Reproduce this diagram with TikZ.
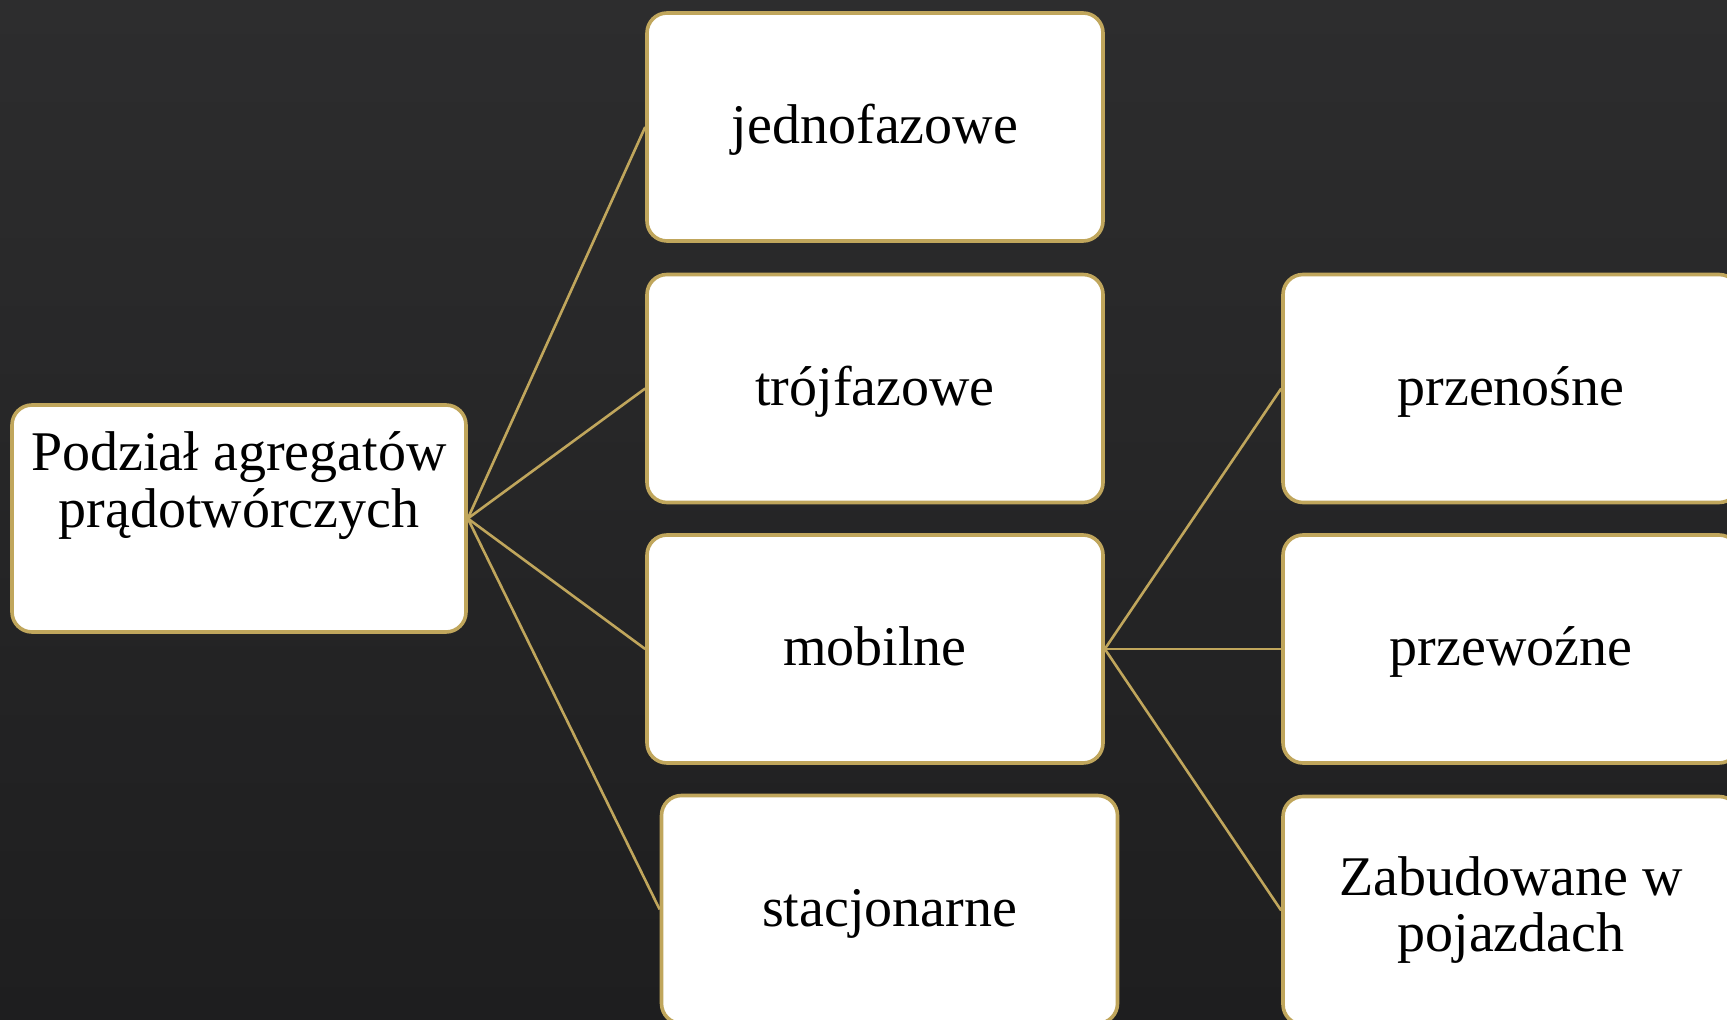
\documentclass[tikz,border=0pt]{standalone}
\usepackage{fontspec}
\setmainfont{Liberation Serif}
\definecolor{gold}{RGB}{192,166,92}
\definecolor{bgtop}{RGB}{45,45,46}
\definecolor{bgbot}{RGB}{30,30,31}
\begin{document}
\begin{tikzpicture}[x=0.5pt,y=-0.5pt,
  box/.style={draw=gold, line width=1.8pt, fill=white, rounded corners=10pt,
    minimum width=228pt, minimum height=114pt, inner sep=0pt,
    font=\fontsize{28}{28}\selectfont, align=center, text=black},
  oneline/.style={text height=22.4pt, text depth=5.6pt},
  link/.style={draw=gold, line width=1.3pt}]
\useasboundingbox (0,0) rectangle (1727,1020);
\clip (0,0) rectangle (1727,1020);
\shade[top color=bgtop, bottom color=bgbot] (0,0) rectangle (1727,1020);

% nodes
\node[box, minimum width=227pt, minimum height=113.5pt] (root) at (239,518.5) {};
\node[anchor=north, inner sep=0pt, align=center, text=black,
  font=\fontsize{28}{28.5}\selectfont] (roottitle) at (239,431)
  {Podział agregatów\\prądotwórczych};

\node[box, oneline] (jedno) at (875,127) {jednofazowe};
\node[box, oneline] (troj) at (875,388.5) {trójfazowe};
\node[box, oneline] (mob) at (875,649) {mobilne};
\node[box, oneline] (stac) at (889.5,909.5) {stacjonarne};

\node[box, oneline] (przen) at (1511,388.5) {przenośne};
\node[box, oneline] (przew) at (1511,649) {przewoźne};
\node[box] (zab) at (1511,910.5) {Zabudowane w\\pojazdach};

% connectors
\draw[link] (root.east) -- (jedno.west);
\draw[link] (root.east) -- (troj.west);
\draw[link] (root.east) -- (mob.west);
\draw[link] (root.east) -- (stac.west);
\draw[link] (mob.east) -- (przen.west);
\draw[link] (mob.east) -- (przew.west);
\draw[link] (mob.east) -- (zab.west);
\end{tikzpicture}
\end{document}
